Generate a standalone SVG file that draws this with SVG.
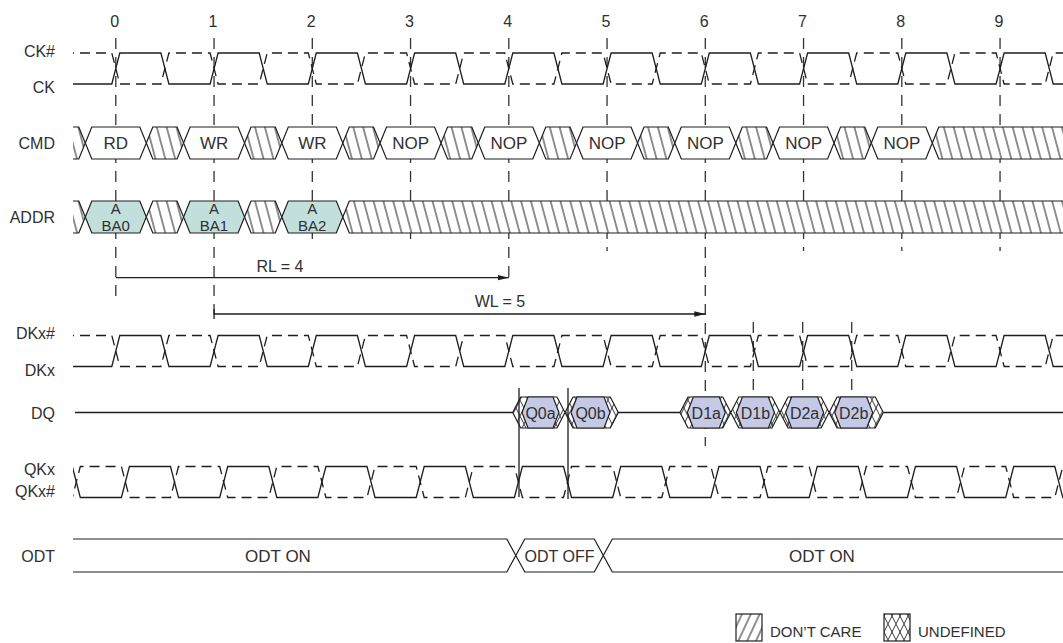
<svg xmlns="http://www.w3.org/2000/svg" width="1063" height="643" viewBox="0 0 1063 643">
<style>
.t{font-family:"Liberation Sans",Arial,Helvetica,sans-serif;font-size:16px;fill:#303030}
.b{font-size:17px}
.s{font-size:15px}
.e{text-anchor:end}
.m{text-anchor:middle}
.w{fill:none;stroke:#1e1e1e;stroke-width:1.3}
.d{stroke-dasharray:10 6}
.tk{fill:none;stroke:#333;stroke-width:1.3;stroke-dasharray:11 8}
.dc{fill:url(#hatch);stroke:#1e1e1e;stroke-width:1.2}
.vw{fill:#fff;stroke:#1e1e1e;stroke-width:1.2}
.va{fill:#c3dfdc;stroke:#1e1e1e;stroke-width:1.2}
.vq{fill:#c5c9e6;stroke:#1e1e1e;stroke-width:1.2}
.ux{fill:url(#xh);stroke:#1e1e1e;stroke-width:1.2}
</style>
<defs>
<pattern id="hatch" width="9.5" height="10" patternUnits="userSpaceOnUse" patternTransform="rotate(-15)"><rect width="9.5" height="10" fill="#fff"/><line x1="4.75" y1="-1" x2="4.75" y2="11" stroke="#222" stroke-width="1"/></pattern>
<pattern id="hatch2" width="8" height="10" patternUnits="userSpaceOnUse" patternTransform="rotate(25)"><rect width="8" height="10" fill="#fff"/><line x1="4" y1="-1" x2="4" y2="11" stroke="#222" stroke-width="1"/></pattern>
<pattern id="xh" width="8" height="16" patternUnits="userSpaceOnUse"><rect width="8" height="16" fill="#fff"/><path d="M0,0 L8,16 M8,0 L0,16" stroke="#222" stroke-width="0.9"/></pattern>
<clipPath id="cw"><rect x="73" y="0" width="990" height="643"/></clipPath>
<marker id="ar" markerWidth="12" markerHeight="8" refX="11" refY="4" orient="auto" markerUnits="userSpaceOnUse"><path d="M0,1.3 L11,4 L0,6.7 Z" fill="#1e1e1e"/></marker>
<polygon id="hv" points="-30.5,0 -24,-16 24,-16 30.5,0 24,16 -24,16"/>
<polygon id="hd" points="0,0 6.5,-16 30.75,-16 37.25,0 30.75,16 6.5,16"/>
<path id="ckS" d="M40,53 L62.7,53 L70.7,84 L111.8,84 L119.8,53 L160.9,53 L168.9,84 L210.1,84 L218.1,53 L259.2,53 L267.2,84 L308.3,84 L316.3,53 L357.4,53 L365.4,84 L406.6,84 L414.6,53 L455.7,53 L463.7,84 L504.8,84 L512.8,53 L553.9,53 L561.9,84 L603.1,84 L611.1,53 L652.2,53 L660.2,84 L701.3,84 L709.3,53 L750.4,53 L758.4,84 L799.6,84 L807.6,53 L848.7,53 L856.7,84 L897.8,84 L905.8,53 L946.9,53 L954.9,84 L996.1,84 L1004.1,53 L1045.2,53 L1053.2,84 L1080,84"/>
<path id="ckD" d="M40,84 L62.7,84 L70.7,53 L111.8,53 L119.8,84 L160.9,84 L168.9,53 L210.1,53 L218.1,84 L259.2,84 L267.2,53 L308.3,53 L316.3,84 L357.4,84 L365.4,53 L406.6,53 L414.6,84 L455.7,84 L463.7,53 L504.8,53 L512.8,84 L553.9,84 L561.9,53 L603.1,53 L611.1,84 L652.2,84 L660.2,53 L701.3,53 L709.3,84 L750.4,84 L758.4,53 L799.6,53 L807.6,84 L848.7,84 L856.7,53 L897.8,53 L905.8,84 L946.9,84 L954.9,53 L996.1,53 L1004.1,84 L1045.2,84 L1053.2,53 L1080,53"/>
</defs>
<rect width="1063" height="643" fill="#fff"/>

<g id="ticks">
<text class="t m" x="114.8" y="26.5">0</text>
<text class="t m" x="213" y="26.5">1</text>
<text class="t m" x="311.3" y="26.5">2</text>
<text class="t m" x="409.5" y="26.5">3</text>
<text class="t m" x="507.8" y="26.5">4</text>
<text class="t m" x="606" y="26.5">5</text>
<text class="t m" x="704.3" y="26.5">6</text>
<text class="t m" x="802.5" y="26.5">7</text>
<text class="t m" x="900.8" y="26.5">8</text>
<text class="t m" x="999" y="26.5">9</text>
<path class="tk" d="M115.8,38 V297 M214.05,38 V318 M312.3,38 V242 M410.55,38 V242 M508.8,38 V279 M607.05,38 V251 M705.3,38 V446 M803.55,38 V251 M901.8,38 V251 M1000.05,38 V251"/>
<path class="tk" d="M753.3,322 V392 M802.7,322 V392 M851.7,322 V392"/>
</g>

<g id="ck">
<text class="t e" x="55" y="56.5">CK#</text>
<text class="t e" x="55" y="93">CK</text>
<g clip-path="url(#cw)">
<use href="#ckS" class="w"/>
<use href="#ckD" class="w d"/>
</g>
</g>

<g id="cmd">
<text class="t e" x="55" y="149">CMD</text>
<path class="dc" d="M73,127 L78.8,127 L85.3,143 L78.8,159 L73,159"/>
<use href="#hd" x="146.3" y="143" class="dc"/>
<use href="#hd" x="244.55" y="143" class="dc"/>
<use href="#hd" x="342.8" y="143" class="dc"/>
<use href="#hd" x="441.05" y="143" class="dc"/>
<use href="#hd" x="539.3" y="143" class="dc"/>
<use href="#hd" x="637.55" y="143" class="dc"/>
<use href="#hd" x="735.8" y="143" class="dc"/>
<use href="#hd" x="834.05" y="143" class="dc"/>
<path class="dc" d="M1063,127 L938.8,127 L932.3,143 L938.8,159 L1063,159"/>
<use href="#hv" x="115.8" y="143" class="vw"/>
<use href="#hv" x="214.05" y="143" class="vw"/>
<use href="#hv" x="312.3" y="143" class="vw"/>
<use href="#hv" x="410.55" y="143" class="vw"/>
<use href="#hv" x="508.8" y="143" class="vw"/>
<use href="#hv" x="607.05" y="143" class="vw"/>
<use href="#hv" x="705.3" y="143" class="vw"/>
<use href="#hv" x="803.55" y="143" class="vw"/>
<use href="#hv" x="901.8" y="143" class="vw"/>
<text class="t b m" x="115.8" y="149">RD</text>
<text class="t b m" x="214.05" y="149">WR</text>
<text class="t b m" x="312.3" y="149">WR</text>
<text class="t b m" x="410.55" y="149">NOP</text>
<text class="t b m" x="508.8" y="149">NOP</text>
<text class="t b m" x="607.05" y="149">NOP</text>
<text class="t b m" x="705.3" y="149">NOP</text>
<text class="t b m" x="803.55" y="149">NOP</text>
<text class="t b m" x="901.8" y="149">NOP</text>
</g>

<g id="addr">
<text class="t e" x="55" y="222.5">ADDR</text>
<path class="dc" d="M73,201 L78.8,201 L85.3,217 L78.8,233 L73,233"/>
<use href="#hd" x="146.3" y="217" class="dc"/>
<use href="#hd" x="244.55" y="217" class="dc"/>
<path class="dc" d="M1063,201 L349.3,201 L342.8,217 L349.3,233 L1063,233"/>
<use href="#hv" x="115.8" y="217" class="va"/>
<use href="#hv" x="214.05" y="217" class="va"/>
<use href="#hv" x="312.3" y="217" class="va"/>
<text class="t s m" x="115.8" y="213.5">A</text>
<text class="t s m" x="115.8" y="230.5">BA0</text>
<text class="t s m" x="214.05" y="213.5">A</text>
<text class="t s m" x="214.05" y="230.5">BA1</text>
<text class="t s m" x="312.3" y="213.5">A</text>
<text class="t s m" x="312.3" y="230.5">BA2</text>
</g>

<g id="connectors">
<line class="w" x1="115.8" y1="277.7" x2="508.8" y2="277.7" marker-end="url(#ar)"/>
<text class="t m" x="280" y="271.5">RL = 4</text>
<line class="w" x1="214.05" y1="309" x2="214.05" y2="319"/>
<line class="w" x1="214.05" y1="314" x2="705.3" y2="314" marker-end="url(#ar)"/>
<text class="t m" x="500" y="306.5">WL = 5</text>
</g>

<g id="dk">
<text class="t e" x="55" y="339">DKx#</text>
<text class="t e" x="55" y="376">DKx</text>
<g clip-path="url(#cw)">
<use href="#ckS" class="w" transform="translate(0,282.5)"/>
<use href="#ckD" class="w d" transform="translate(0,282.5)"/>
</g>
</g>

<g id="dq">
<text class="t e" x="55" y="419">DQ</text>
<path class="w" d="M75,412.5 H512.7 M618.3,412.5 H680 M883.3,412.5 H1063"/>
<path class="ux" d="M512.7,412.5 L520.7,397 L557,397 L573,428 L610.3,428 L618.3,412.5 L610.3,397 L573,397 L557,428 L520.7,428 Z"/>
<polygon class="vq" points="522,412.5 528,397 553,397 559,412.5 553,428 528,428"/>
<polygon class="vq" points="571,412.5 577,397 604,397 610,412.5 604,428 577,428"/>
<path class="ux" d="M680,412.5 L688,397 L722.8,397 L738.8,428 L772,428 L788,397 L821.1,397 L837.1,428 L875.3,428 L883.3,412.5 L875.3,397 L837.1,397 L821.1,428 L788,428 L772,397 L738.8,397 L722.8,428 L688,428 Z"/>
<polygon class="vq" points="687.3,412.5 693.3,397 719.3,397 725.3,412.5 719.3,428 693.3,428"/>
<polygon class="vq" points="736.4,412.5 742.4,397 768.4,397 774.4,412.5 768.4,428 742.4,428"/>
<polygon class="vq" points="785.6,412.5 791.6,397 817.6,397 823.6,412.5 817.6,428 791.6,428"/>
<polygon class="vq" points="834.7,412.5 840.7,397 866.7,397 872.7,412.5 866.7,428 840.7,428"/>
<text class="t m" x="540.5" y="418.5">Q0a</text>
<text class="t m" x="590.5" y="418.5">Q0b</text>
<text class="t m" x="706.3" y="418.5">D1a</text>
<text class="t m" x="755.4" y="418.5">D1b</text>
<text class="t m" x="804.6" y="418.5">D2a</text>
<text class="t m" x="853.7" y="418.5">D2b</text>
<path class="w" d="M519,388 V497 M568,388 V499"/>
</g>

<g id="qk">
<text class="t e" x="55" y="474.5">QKx</text>
<text class="t e" x="55" y="497">QKx#</text>
<g clip-path="url(#cw)">
<use href="#ckS" class="w" transform="translate(9.6,413.5)"/>
<use href="#ckD" class="w d" transform="translate(9.6,413.5)"/>
</g>
</g>

<g id="odt">
<text class="t e" x="55" y="561.5">ODT</text>
<path class="vw" d="M73,539 L506.8,539 L515.8,555.5 L506.8,572 L73,572"/>
<polygon class="vw" points="515.8,555.5 524.8,539 594.3,539 603.3,555.5 594.3,572 524.8,572"/>
<path class="vw" d="M1063,539 L612.3,539 L603.3,555.5 L612.3,572 L1063,572"/>
<text class="t b m" x="278" y="561.5">ODT ON</text>
<text class="t m" x="559.5" y="561.5">ODT OFF</text>
<text class="t b m" x="822" y="561.5">ODT ON</text>
</g>

<g id="legend">
<rect x="736" y="614" width="26" height="27" fill="url(#hatch2)" stroke="#1e1e1e" stroke-width="1.2"/>
<text class="t" x="770" y="636.5" style="font-size:15px">DON’T CARE</text>
<rect x="884" y="614" width="26" height="27" fill="url(#xh)" stroke="#1e1e1e" stroke-width="1.2"/>
<text class="t" x="918" y="636.5" style="font-size:15px">UNDEFINED</text>
</g>
</svg>
